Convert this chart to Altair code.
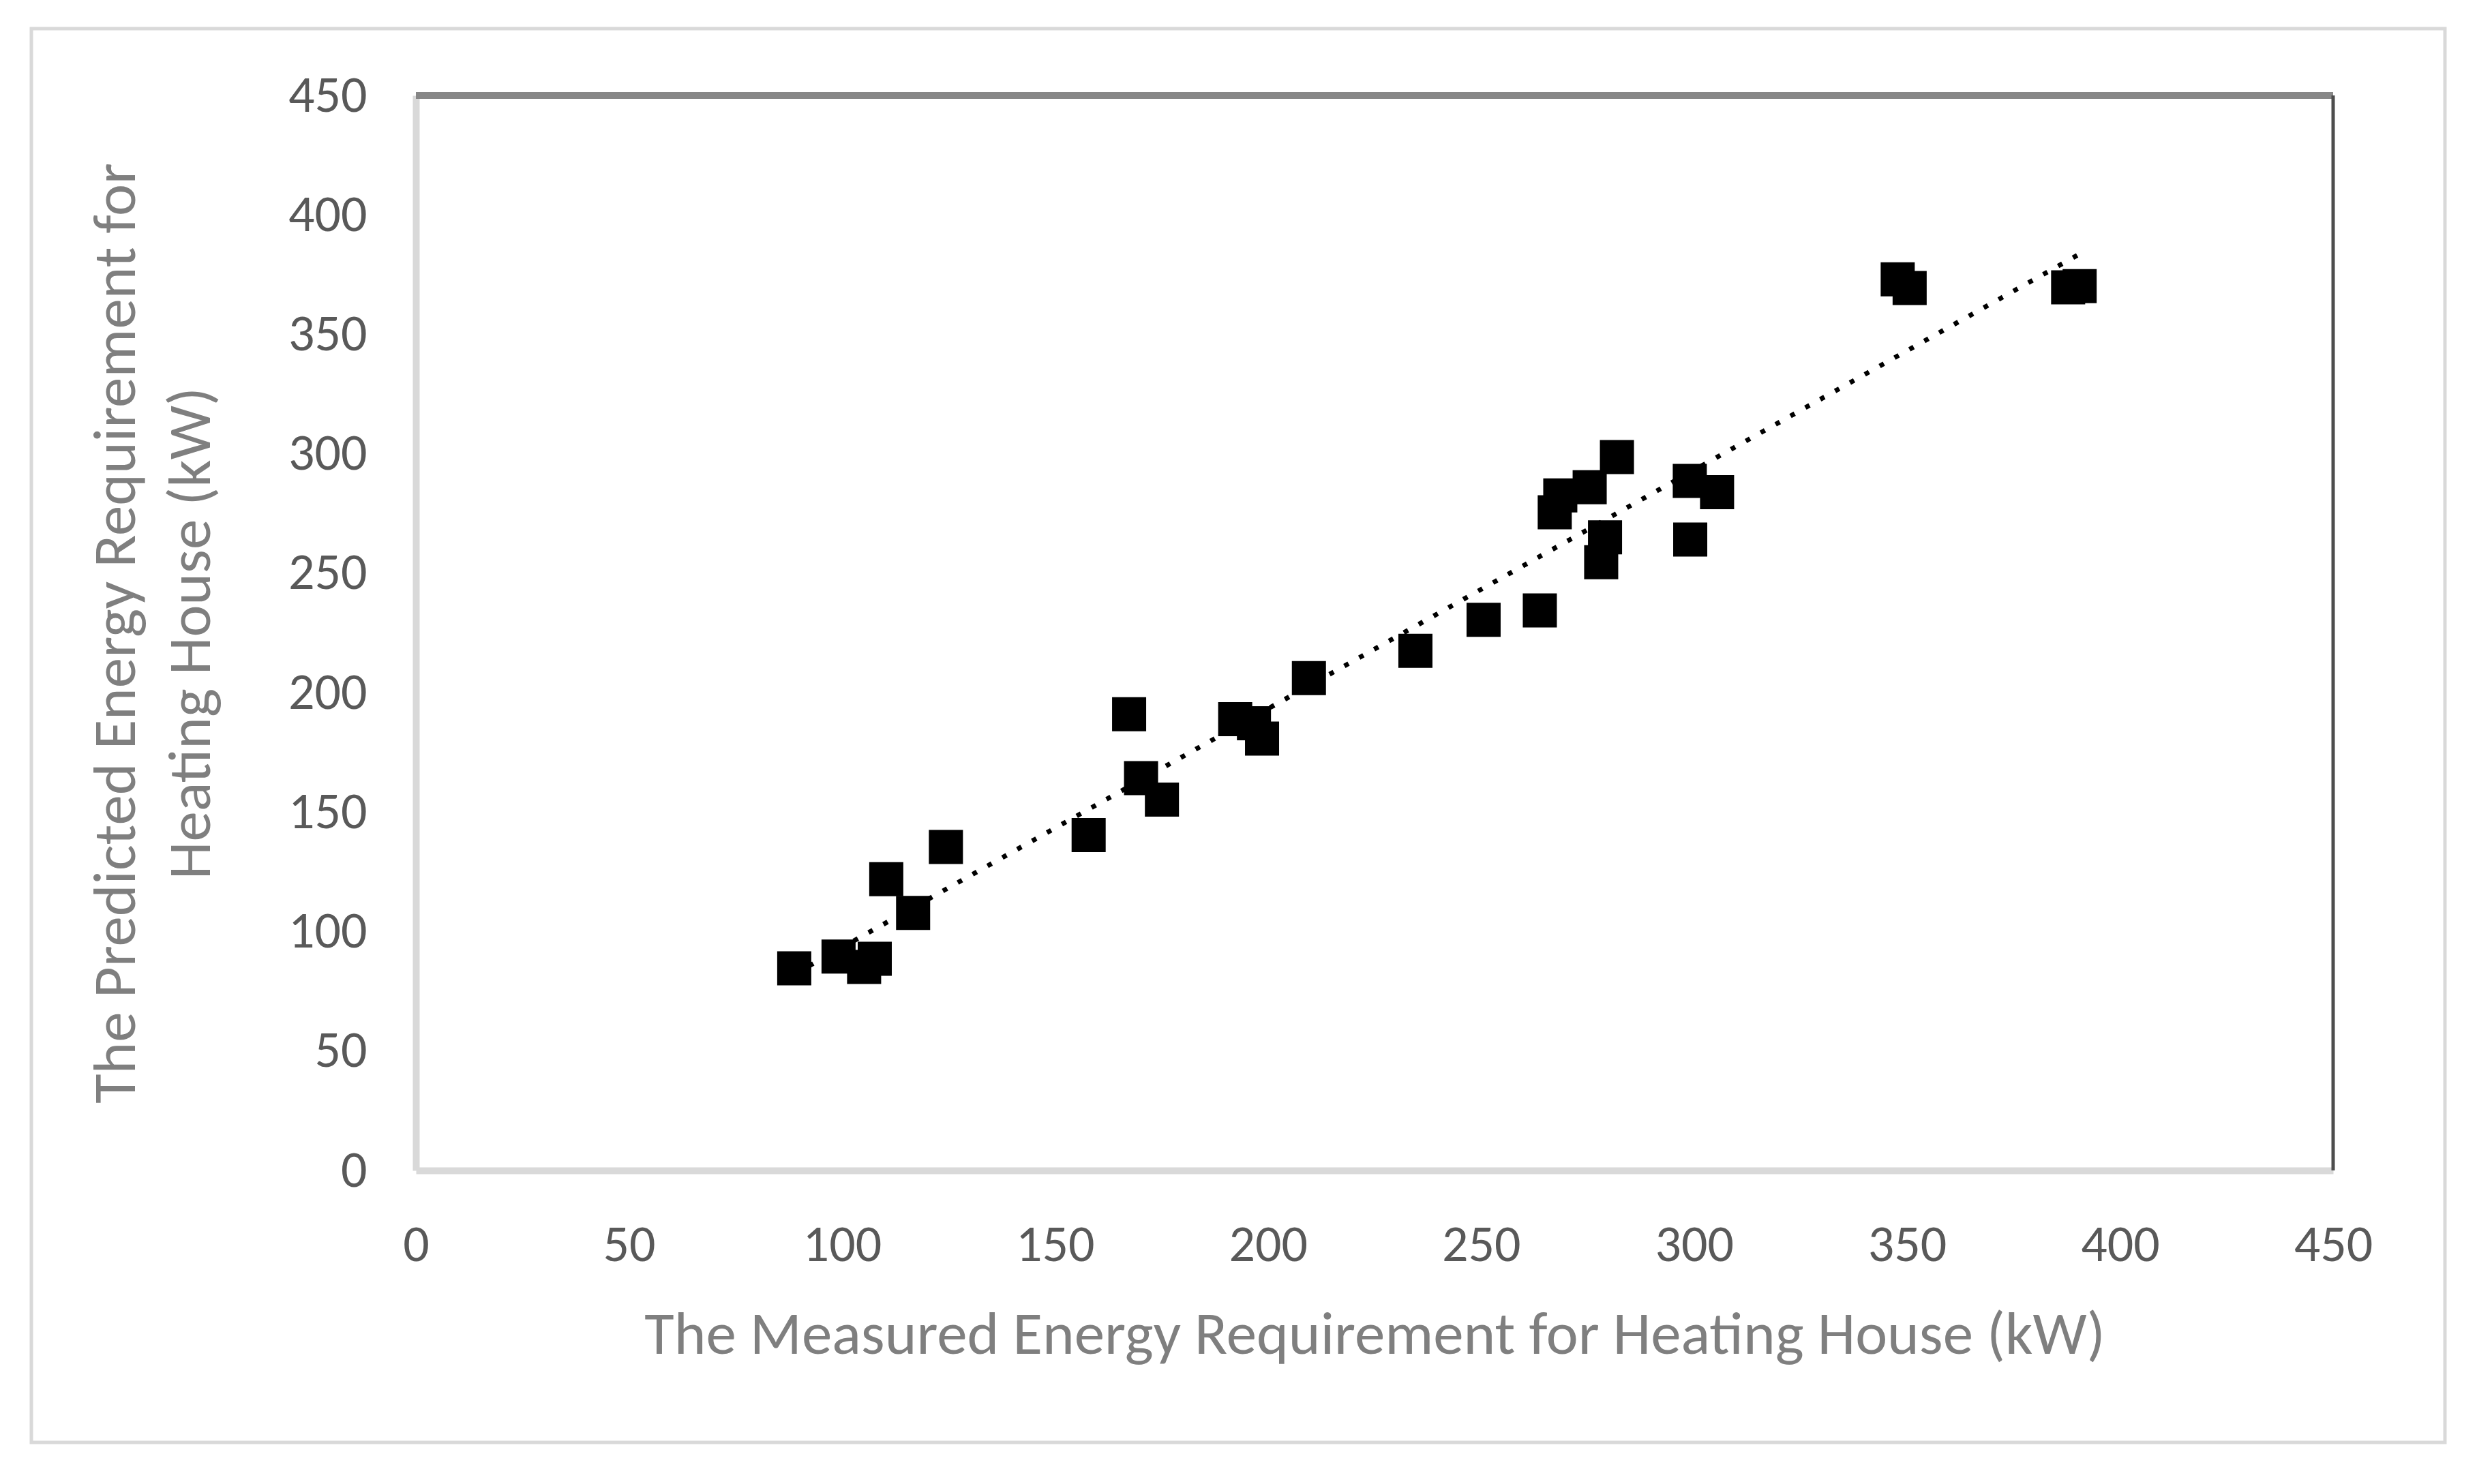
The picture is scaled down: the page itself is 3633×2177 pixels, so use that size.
import altair as alt
import pandas as pd

# Data (kW)
measured = [88.8, 99.2, 105.2, 107.7, 110.4, 116.7, 124.4, 157.9, 167.4, 170.2,
            175.1, 192.3, 196.7, 198.6, 209.6, 234.6, 250.6, 263.8, 267.3, 268.6,
            275.5, 281.9, 279.1, 278.2, 299.0, 305.4, 299.1, 347.8, 350.6, 387.8,
            390.5]
predicted = [84.6, 89.5, 85.2, 88.6, 121.9, 107.8, 135.4, 140.4, 191.0, 164.2,
             155.2, 188.9, 187.2, 180.8, 206.1, 217.5, 230.5, 234.4, 275.5, 282.6,
             286.0, 298.6, 265.0, 254.6, 288.6, 283.9, 264.1, 373.0, 369.4, 369.7,
             370.2]
tick_values = [0, 50, 100, 150, 200, 250, 300, 350, 400, 450]

x_title = "The Measured Energy Requirement for Heating House (kW)"
y_title = ["The Predicted Energy Requirement for", "Heating House (kW)"]

df = pd.DataFrame({"measured": measured, "predicted": predicted})

W, H = 2812, 1577
FONT = "Carlito, Calibri, Lato"
TICK_COLOR = "#595959"
TITLE_COLOR = "#7f7f7f"

X = alt.X(
    "measured:Q",
    scale=alt.Scale(domain=[0, 450], nice=False, zero=True),
    axis=alt.Axis(
        values=tick_values, title=x_title, grid=False, ticks=False, tickSize=0,
        domainColor="#d9d9d9", domainWidth=10,
        labelFont=FONT, labelFontSize=76, labelColor=TICK_COLOR,
        labelPadding=132, labelBaseline="alphabetic", labelFlush=False,
        labelOverlap=False, labelBound=False,
        titleFont=FONT, titleFontSize=89, titleColor=TITLE_COLOR,
        titleFontWeight="normal", titleBaseline="alphabetic", titleY=268,
    ),
)
Y = alt.Y(
    "predicted:Q",
    scale=alt.Scale(domain=[0, 450], nice=False, zero=True),
    axis=alt.Axis(
        values=tick_values, title=y_title, grid=False, ticks=False, tickSize=0,
        domainColor="#d9d9d9", domainWidth=10,
        labelFont=FONT, labelFontSize=76, labelColor=TICK_COLOR,
        labelPadding=72, labelAlign="right", labelBaseline="middle",
        labelFlush=False, labelOverlap=False, labelBound=False,
        titleFont=FONT, titleFontSize=89, titleColor=TITLE_COLOR,
        titleFontWeight="normal", titleAngle=270, titleAlign="center",
        titleBaseline="middle", titleLineHeight=110, titleX=-440, titleY=H / 2,
    ),
)

base = alt.Chart(df)

frame = alt.Chart(pd.DataFrame({"k": [0]})).mark_rect(
    fillOpacity=0, stroke="#d9d9d9", strokeWidth=5
).encode(
    x=alt.value(-564), x2=alt.value(2976), y=alt.value(-98), y2=alt.value(1976)
)

points = base.mark_square(size=2500, color="black", opacity=1, filled=True).encode(
    x=X, y=Y
)

trend = base.transform_regression(
    "measured", "predicted", method="linear"
).mark_line(color="black", strokeWidth=7, strokeDash=[7, 18], strokeCap="butt").encode(
    x=X, y=Y
)

top_rule = alt.Chart(pd.DataFrame({"k": [0]})).mark_rule(
    color="#878787", strokeWidth=10
).encode(x=alt.value(0), x2=alt.value(W), y=alt.value(0))

right_rule = alt.Chart(pd.DataFrame({"k": [0]})).mark_rule(
    color="#4d4d4d", strokeWidth=5
).encode(x=alt.value(W), y=alt.value(0), y2=alt.value(H))

chart = alt.layer(points, trend, frame, top_rule, right_rule).properties(
    width=W,
    height=H,
    autosize="none",
    padding={"left": 602, "top": 132, "right": 195, "bottom": 440},
    background="white",
).configure_view(strokeWidth=0)

chart.save("out.html", embed_options={"renderer": "svg", "actions": False})
